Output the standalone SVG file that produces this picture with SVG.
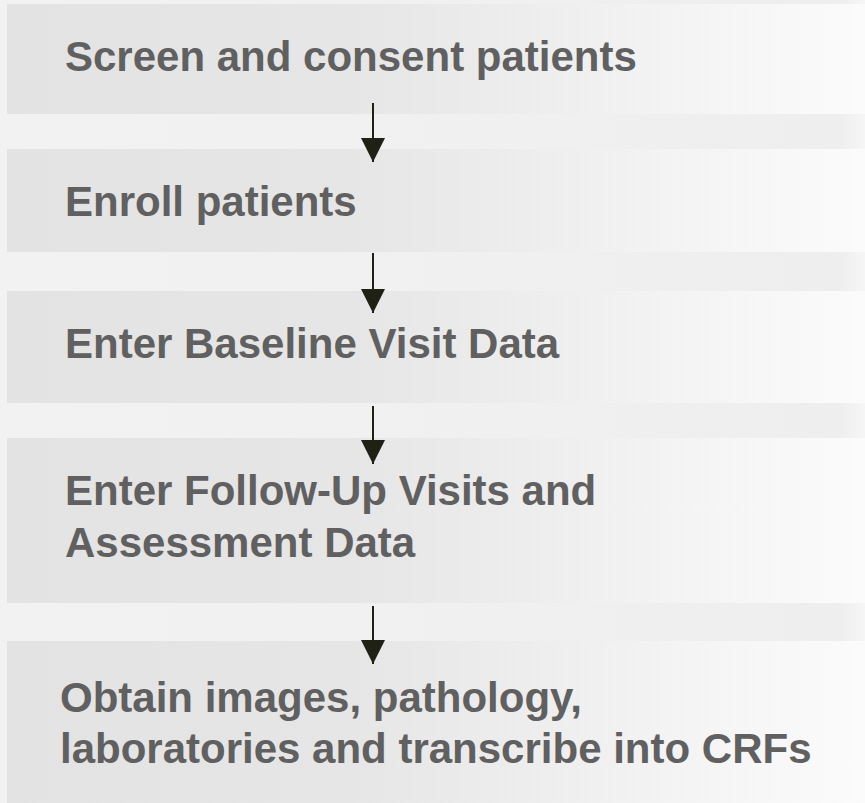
<svg xmlns="http://www.w3.org/2000/svg" width="865" height="803" viewBox="0 0 865 803">
<defs>
<linearGradient id="bg" x1="0" y1="0" x2="1" y2="0">
<stop offset="0" stop-color="#f2f2f2"/>
<stop offset="0.6" stop-color="#f0f0f0"/>
<stop offset="0.97" stop-color="#eeeeee"/>
<stop offset="1" stop-color="#f6f6f6"/>
</linearGradient>
<linearGradient id="box" x1="0" y1="0" x2="1" y2="0">
<stop offset="0" stop-color="#e3e3e3"/>
<stop offset="0.4" stop-color="#e6e6e6"/>
<stop offset="0.6" stop-color="#ededed"/>
<stop offset="0.85" stop-color="#f6f6f6"/>
<stop offset="1" stop-color="#fbfbfb"/>
</linearGradient>
<marker id="ah" markerUnits="userSpaceOnUse" markerWidth="26" markerHeight="24" refX="24" refY="12" orient="auto">
<path d="M0,0 L24,12 L0,24 Z" fill="#1f2115"/>
</marker>
<style>
.box{fill:url(#box);}
.t{font-family:"Liberation Sans",Arial,sans-serif;font-weight:bold;font-size:42px;fill:#606060;}
.c{stroke:#1f2115;stroke-width:2;fill:none;marker-end:url(#ah);}
</style>
</defs>
<rect x="0" y="0" width="865" height="803" fill="url(#bg)"/>
<g id="n1"><rect class="box" x="7" y="4" width="858" height="110"/><text class="t" x="65" y="71">Screen and consent patients</text></g>
<g id="n2"><rect class="box" x="7" y="149" width="858" height="103"/><text class="t" x="65" y="216">Enroll patients</text></g>
<g id="n3"><rect class="box" x="7" y="291" width="858" height="112"/><text class="t" x="65" y="358">Enter Baseline Visit Data</text></g>
<g id="n4"><rect class="box" x="7" y="438" width="858" height="165"/><text class="t" x="65" y="505">Enter Follow-Up Visits and</text><text class="t" x="65" y="557">Assessment Data</text></g>
<g id="n5"><rect class="box" x="7" y="641" width="858" height="162"/><text class="t" x="60" y="712">Obtain images, pathology,</text><text class="t" x="60" y="763">laboratories and transcribe into CRFs</text></g>
<g id="connectors">
<line class="c" x1="373" y1="103" x2="373" y2="162"/>
<line class="c" x1="373" y1="253" x2="373" y2="313"/>
<line class="c" x1="373" y1="406" x2="373" y2="464"/>
<line class="c" x1="373" y1="606" x2="373" y2="664"/>
</g>
</svg>
